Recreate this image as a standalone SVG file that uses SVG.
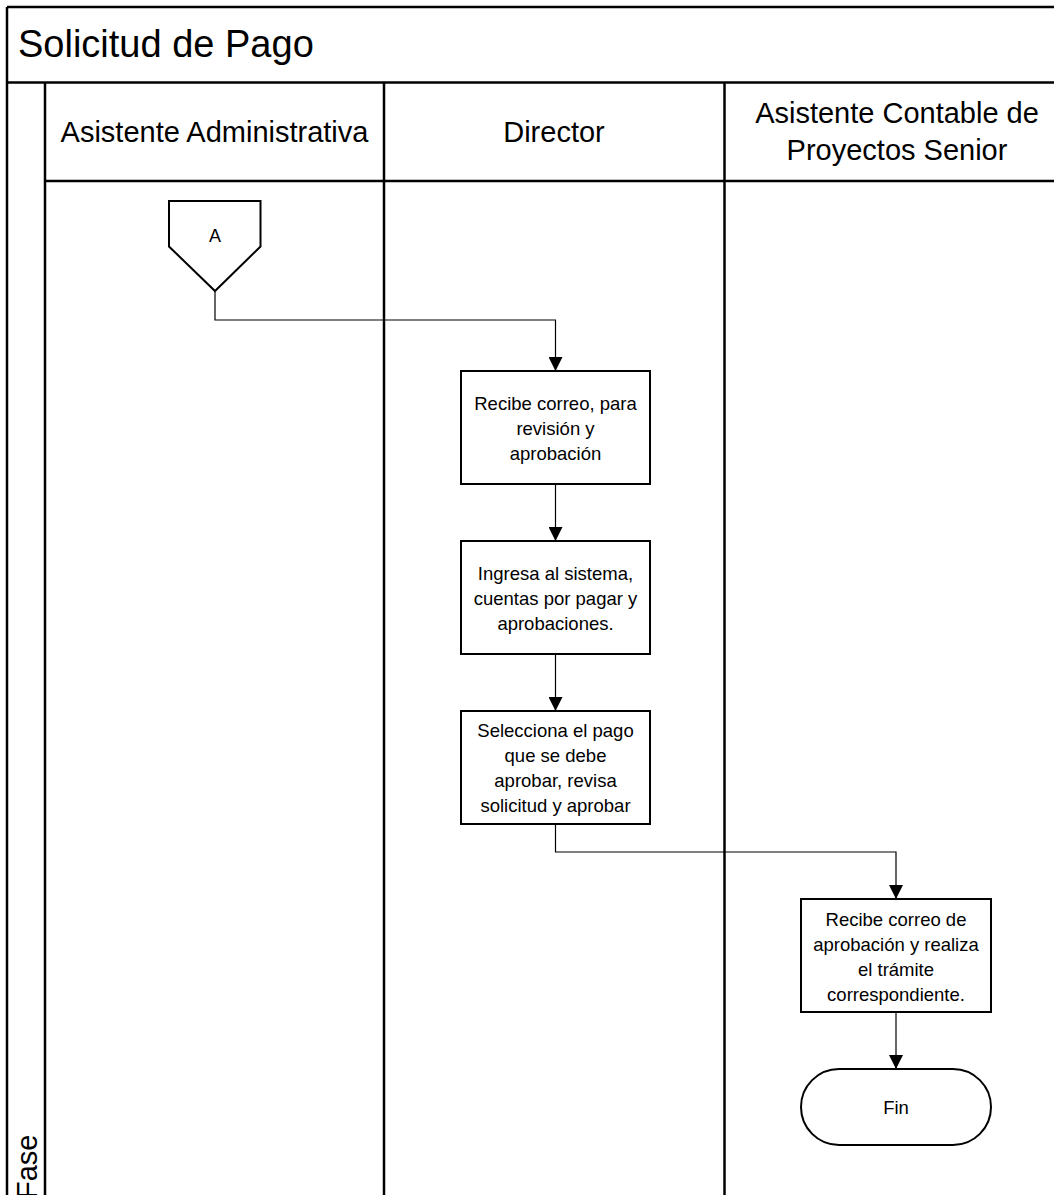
<svg xmlns="http://www.w3.org/2000/svg" width="1054" height="1195" viewBox="0 0 1054 1195">
  <style>
    .frame { stroke: #000; stroke-width: 2.5; fill: none; }
    .shape { stroke: #000; stroke-width: 2; fill: #fff; }
    .conn { stroke: #000; stroke-width: 1.2; fill: none; marker-end: url(#arrow); }
    .title { font-family: "Liberation Sans", Arial, sans-serif; font-size: 38px; fill: #000; }
    .lane { font-family: "Liberation Sans", Arial, sans-serif; font-size: 29px; fill: #000; text-anchor: middle; }
    .label { font-family: "Liberation Sans", Arial, sans-serif; font-size: 18.5px; fill: #000; text-anchor: middle; }
  </style>
  <defs>
    <marker id="arrow" markerUnits="userSpaceOnUse" markerWidth="14" markerHeight="14" refX="14" refY="7" orient="auto">
      <path d="M0,0 L14,7 L0,14 z" fill="#000"/>
    </marker>
  </defs>
  <rect x="0" y="0" width="1054" height="1195" fill="#fff"/>

  <!-- Swimlane frame -->
  <g id="pool">
    <line class="frame" x1="7" y1="7" x2="1060" y2="7"/>
    <line class="frame" x1="7" y1="7" x2="7" y2="1200"/>
    <line class="frame" x1="7" y1="82.5" x2="1060" y2="82.5"/>
    <line class="frame" x1="45" y1="82.5" x2="45" y2="1200"/>
    <line class="frame" x1="45" y1="181" x2="1060" y2="181"/>
    <line class="frame" x1="384" y1="82.5" x2="384" y2="1200"/>
    <line class="frame" x1="724.5" y1="82.5" x2="724.5" y2="1200"/>
    <text class="title" x="18" y="57">Solicitud de Pago</text>
    <text class="lane" x="214.5" y="142">Asistente Administrativa</text>
    <text class="lane" x="554" y="142">Director</text>
    <text class="lane" x="897" y="123">Asistente Contable de</text>
    <text class="lane" x="897" y="160">Proyectos Senior</text>
    <text class="lane" style="text-anchor:start" transform="translate(37,1199) rotate(-90)">Fase</text>
  </g>

  <!-- Connectors -->
  <g id="connectors">
    <polyline class="conn" points="215,291 215,320 555.5,320 555.5,371"/>
    <line class="conn" x1="555.5" y1="484" x2="555.5" y2="541"/>
    <line class="conn" x1="555.5" y1="654" x2="555.5" y2="711"/>
    <polyline class="conn" points="555.5,824 555.5,852 896,852 896,899"/>
    <line class="conn" x1="896" y1="1012" x2="896" y2="1069"/>
  </g>

  <!-- Off-page reference -->
  <g id="node-a">
    <polygon class="shape" points="169,201 260.5,201 260.5,246.5 215,291 169,246.5"/>
    <text class="label" x="215" y="241.5" style="font-size:18px">A</text>
  </g>

  <g id="node-recibe-correo">
    <rect class="shape" x="461" y="371" width="189" height="113"/>
    <text class="label" x="555.5" y="409.5">Recibe correo, para</text>
    <text class="label" x="555.5" y="434.5">revisión y</text>
    <text class="label" x="555.5" y="459.5">aprobación</text>
  </g>

  <g id="node-ingresa-sistema">
    <rect class="shape" x="461" y="541" width="189" height="113"/>
    <text class="label" x="555.5" y="580">Ingresa al sistema,</text>
    <text class="label" x="555.5" y="605">cuentas por pagar y</text>
    <text class="label" x="555.5" y="630">aprobaciones.</text>
  </g>

  <g id="node-selecciona-pago">
    <rect class="shape" x="461" y="711" width="189" height="113"/>
    <text class="label" x="555.5" y="737">Selecciona el pago</text>
    <text class="label" x="555.5" y="762">que se debe</text>
    <text class="label" x="555.5" y="787">aprobar, revisa</text>
    <text class="label" x="555.5" y="812">solicitud y aprobar</text>
  </g>

  <g id="node-tramite">
    <rect class="shape" x="801" y="899" width="190" height="113"/>
    <text class="label" x="896" y="926">Recibe correo de</text>
    <text class="label" x="896" y="951">aprobación y realiza</text>
    <text class="label" x="896" y="976">el trámite</text>
    <text class="label" x="896" y="1001">correspondiente.</text>
  </g>

  <g id="node-fin">
    <rect class="shape" x="801" y="1069" width="190" height="76" rx="38" ry="38"/>
    <text class="label" x="896" y="1114">Fin</text>
  </g>
</svg>
